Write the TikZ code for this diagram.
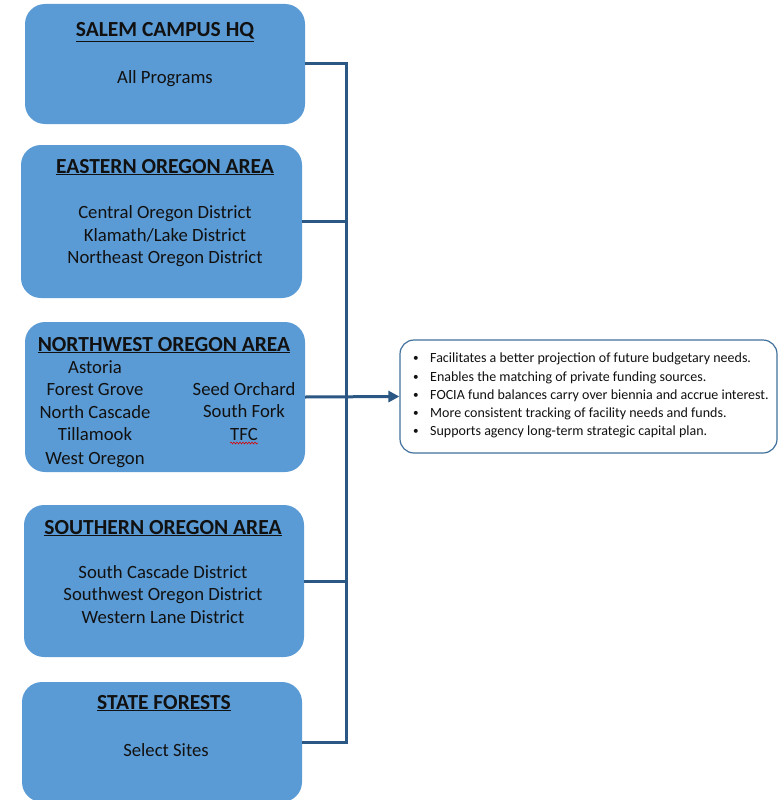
\documentclass[tikz,border=0pt]{standalone}
\usepackage{fontspec}
\setmainfont{Carlito}
\usetikzlibrary{arrows.meta,decorations.pathmorphing}
\definecolor{boxblue}{HTML}{5B9BD5}
\definecolor{linecol}{HTML}{2A5783}
\definecolor{infoborder}{HTML}{41719C}
\definecolor{txt}{HTML}{111111}
\begin{document}
\begin{tikzpicture}[x=1pt,y=-1pt,
  area/.style={fill=boxblue,draw=none,rounded corners=20pt,inner sep=0pt},
  ttl/.style={font=\fontsize{21.5}{24}\selectfont\bfseries,text=txt,inner sep=0pt,anchor=base},
  body/.style={font=\fontsize{18.7}{22}\selectfont,text=txt,inner sep=0pt,anchor=base},
  conn/.style={draw=linecol,line width=3pt},
  arr/.style={conn,-{Triangle[length=11pt,width=11pt]}},
  info/.style={draw=infoborder,line width=1.2pt,fill=white,rounded corners=14pt,inner sep=0pt}]
\useasboundingbox (0,0) rectangle (778,800);
% boxes
\node[area,minimum width=280pt,minimum height=120pt] (b1) at (165,64) {};
\node[area,minimum width=281pt,minimum height=153pt] (b2) at (161.5,221.5) {};
\node[area,minimum width=280pt,minimum height=150pt] (b3) at (165,397) {};
\node[area,minimum width=280pt,minimum height=152pt] (b4) at (164,581) {};
\node[area,minimum width=280pt,minimum height=120pt] (b5) at (162,742) {};
\node[info,minimum width=377pt,minimum height=113pt] (info) at (588.5,396.5) {};
% titles
\node[ttl] (t1) at (165,37) {\underline{SALEM CAMPUS HQ}};
\node[ttl] (t2) at (165,173) {\underline{EASTERN OREGON AREA}};
\node[ttl] (t3) at (164,351) {\underline{NORTHWEST OREGON AREA}};
\node[ttl] (t4) at (163,534) {\underline{SOUTHERN OREGON AREA}};
\node[ttl] (t5) at (164,709) {\underline{STATE FORESTS}};
% bodies
\node[body] (s1) at (165,83) {All Programs};
\node[body] (e1) at (165,218) {Central Oregon District};
\node[body] (e2) at (165,241) {Klamath/Lake District};
\node[body] (e3) at (165,263) {Northeast Oregon District};
\node[body] (n1) at (95,373) {Astoria};
\node[body] (n2) at (95,395) {Forest Grove};
\node[body] (n3) at (95,418) {North Cascade};
\node[body] (n4) at (95,440) {Tillamook};
\node[body] (n5) at (95,464) {West Oregon};
\node[body] (n6) at (244,395) {Seed Orchard};
\node[body] (n7) at (244,417) {South Fork};
\node[body] (n8) at (244,440) {TFC};
\draw[red!85!black,line width=0.6pt,decorate,decoration={snake,amplitude=0.9pt,segment length=3pt}]
  ([yshift=-3pt]n8.base west) -- ([yshift=-3pt]n8.base east);
\node[body] (so1) at (163,578) {South Cascade District};
\node[body] (so2) at (163,600) {Southwest Oregon District};
\node[body] (so3) at (163,623) {Western Lane District};
\node[body] (f1) at (166,756) {Select Sites};
% info text
\node[font=\fontsize{14}{18.25}\selectfont,text=txt,align=left,inner sep=0pt,anchor=north west] (itxt) at (413,353)
{\makebox[17pt][l]{\raisebox{1pt}{\scalebox{0.8}{\textbullet}}}Facilitates a better projection of future budgetary needs.\\
 \makebox[17pt][l]{\raisebox{1pt}{\scalebox{0.8}{\textbullet}}}Enables the matching of private funding sources.\\
 \makebox[17pt][l]{\raisebox{1pt}{\scalebox{0.8}{\textbullet}}}FOCIA fund balances carry over biennia and accrue interest.\\
 \makebox[17pt][l]{\raisebox{1pt}{\scalebox{0.8}{\textbullet}}}More consistent tracking of facility needs and funds.\\
 \makebox[17pt][l]{\raisebox{1pt}{\scalebox{0.8}{\textbullet}}}Supports agency long-term strategic capital plan.};
% connectors
\coordinate (bus) at (346,0);
\draw[conn] (b1.east) -- (b1.east -| bus) -- (b5.east -| bus) -- (b5.east);
\draw[conn] (b2.east) -- (b2.east -| bus);
\draw[conn] (b4.east) -- (b4.east -| bus);
\draw[arr] (b3.east) -- (info.west);
\end{tikzpicture}
\end{document}
